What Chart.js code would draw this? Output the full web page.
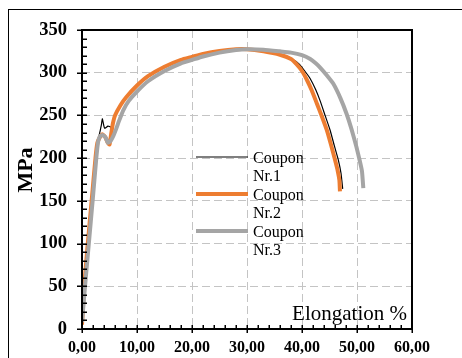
<!DOCTYPE html>
<html>
<head>
<meta charset="utf-8">
<script src="https://cdn.jsdelivr.net/npm/chart.js@4/dist/chart.umd.min.js"></script>
<style>
  html, body { margin: 0; padding: 0; background: #fff; }
  #wrap { width: 462px; height: 358px; }
</style>
</head>
<body>
<div id="wrap"><canvas id="c" width="462" height="358"></canvas></div>
<script>
// ---- data ----
const seriesLabels = ['Coupon Nr.1', 'Coupon Nr.2', 'Coupon Nr.3'];
const xTickLabels = ['0,00', '10,00', '20,00', '30,00', '40,00', '50,00', '60,00'];
const yTickLabels = ['0', '50', '100', '150', '200', '250', '300', '350'];
const xTitle = 'Elongation %';
const yTitle = 'MPa';

const coupon1X = [0, 0.45, 1.1, 1.8, 2.5, 2.9, 3.3, 3.5, 3.7, 3.9, 4.1, 4.4, 4.7, 5.0, 5.3, 5.6, 6, 7, 8, 10, 12, 15, 18, 20, 22, 25, 28, 30, 33, 36, 38, 39.5, 40.5, 41.5, 42.5, 43.3, 44.2, 45.1, 45.9, 46.6, 47.1, 47.4];
const coupon1Y = [10, 50, 100, 150, 200, 220, 232, 238, 246, 240, 235, 236, 237.5, 237, 236, 243, 250, 262, 271, 285, 296, 307, 315, 318.5, 322, 325.5, 327.5, 327.5, 325, 321, 316.5, 310, 302, 293, 280, 267, 250, 233, 214, 198, 182, 164];

const coupon2X = [0, 0.4, 1.05, 1.75, 2.45, 2.8, 3.2, 3.7, 4.2, 4.7, 5.0, 5.3, 5.6, 6, 7, 8, 10, 12, 15, 18, 20, 22, 25, 28, 30, 33, 36, 38, 39, 40, 40.9, 41.8, 42.7, 43.6, 44.5, 45.3, 46, 46.5, 46.8, 46.9];
const coupon2Y = [5, 50, 100, 150, 200, 218, 224, 228, 225, 218, 216, 228, 240, 250, 262, 271, 285, 296, 307, 315, 318.5, 322, 325.5, 327.5, 327.5, 325, 321, 316, 310, 302, 291.5, 279, 264, 249, 233, 215, 198, 185, 174, 161];

const coupon3X = [0, 0.55, 1.24, 1.93, 2.6, 2.95, 3.3, 3.8, 4.3, 4.7, 5.2, 5.7, 6.2, 6.7, 7.5, 8.5, 10, 12, 15, 18, 20, 22, 25, 28, 30, 33, 36, 38, 40, 41.5, 42.5, 43.3, 44.5, 45.7, 47, 48.1, 49, 49.9, 50.5, 50.9, 51.15];
const coupon3Y = [8, 50, 100, 150, 200, 220, 226, 227, 224, 218, 220, 226, 234, 243, 256, 267, 278, 290, 302, 311, 315, 319, 323.5, 326.5, 327.5, 327, 325, 323.5, 320.5, 316, 311, 306, 297, 287, 270, 252, 234, 213, 197, 185, 165];

const toPoints = (xs, ys) => xs.map((x, i) => ({ x: x, y: ys[i] }));

const SERIF = '"Liberation Serif", "Times New Roman", serif';

const decor = {
  id: 'decor',
  beforeDraw(chart) {
    const ctx = chart.ctx;
    ctx.save();
    ctx.fillStyle = '#fff';
    ctx.fillRect(0, 0, chart.width, chart.height);
    ctx.strokeStyle = '#000';
    ctx.lineWidth = 1;
    ctx.strokeRect(8.5, 9.5, 470, 370);
    ctx.restore();
  },
  afterDraw(chart) {
    const ctx = chart.ctx;
    const a = chart.chartArea;
    const xs = chart.scales.x, ys = chart.scales.y;
    ctx.save();
    // plot border
    ctx.strokeStyle = '#000';
    ctx.lineWidth = 2;
    ctx.strokeRect(a.left, a.top, a.right - a.left, a.bottom - a.top);
    // tick marks (major cross, minor inside)
    ctx.lineWidth = 1.5;
    ctx.beginPath();
    for (let v = 0; v <= 350; v += 10) {
      const py = Math.round(ys.getPixelForValue(v)) + 0.25;
      const major = v % 50 === 0;
      ctx.moveTo(a.left - (major ? 5 : 0), py);
      ctx.lineTo(a.left + 5, py);
    }
    for (let v = 0; v <= 60; v += 2) {
      const px = Math.round(xs.getPixelForValue(v)) + 0.25;
      const major = v % 10 === 0;
      ctx.moveTo(px, a.bottom + (major ? 4 : 0));
      ctx.lineTo(px, a.bottom - 4);
    }
    ctx.stroke();
    // x title inside plot
    ctx.fillStyle = '#000';
    ctx.font = '21px ' + SERIF;
    ctx.textAlign = 'right';
    ctx.textBaseline = 'alphabetic';
    ctx.fillText(xTitle, a.right - 5, a.bottom - 9);
    // y title
    ctx.save();
    ctx.translate(26, 170);
    ctx.rotate(-Math.PI / 2);
    ctx.font = 'bold 22px ' + SERIF;
    ctx.textAlign = 'center';
    ctx.textBaseline = 'middle';
    ctx.fillText(yTitle, 0, 0);
    ctx.restore();
    // legend
    const lx0 = 196, lx1 = 248, tx = 253;
    const rows = [157, 194, 231];
    chart.data.datasets.forEach((ds, i) => {
      const y = rows[i];
      ctx.strokeStyle = ds.borderColor;
      ctx.lineWidth = ds.borderWidth;
      ctx.lineCap = 'butt';
      ctx.beginPath();
      ctx.moveTo(lx0, y);
      ctx.lineTo(lx1, y);
      ctx.stroke();
      ctx.fillStyle = '#000';
      ctx.font = '16px ' + SERIF;
      ctx.textAlign = 'left';
      ctx.textBaseline = 'alphabetic';
      const parts = ds.label.split(' ');
      ctx.fillText(parts[0], tx, y + 5.5);
      ctx.fillText(parts[1], tx, y + 23.5);
    });
    ctx.restore();
  }
};

new Chart(document.getElementById('c'), {
  type: 'scatter',
  data: {
    datasets: [
      { label: seriesLabels[0], data: toPoints(coupon1X, coupon1Y), showLine: true, borderColor: '#000000', backgroundColor: '#000000', borderWidth: 1.2, pointRadius: 0, tension: 0.15, order: 2 },
      { label: seriesLabels[1], data: toPoints(coupon2X, coupon2Y), showLine: true, borderColor: '#ED7D31', backgroundColor: '#ED7D31', borderWidth: 4, pointRadius: 0, tension: 0.15, order: 1 },
      { label: seriesLabels[2], data: toPoints(coupon3X, coupon3Y), showLine: true, borderColor: '#A5A5A5', backgroundColor: '#A5A5A5', borderWidth: 4, pointRadius: 0, tension: 0.15, order: 0 }
    ]
  },
  options: {
    responsive: false,
    animation: false,
    layout: { padding: { left: 0, top: 30, right: 50, bottom: 0 } },
    plugins: { legend: { display: false }, tooltip: { enabled: false } },
    scales: {
      x: {
        type: 'linear', min: 0, max: 60,
        afterFit(s) { s.height = 29; },
        ticks: {
          stepSize: 10, padding: 9, color: '#000',
          font: { family: SERIF, size: 16, weight: 'bold' },
          callback: (v, i) => xTickLabels[i]
        },
        grid: { color: '#C4C4C4', lineWidth: 1, drawTicks: false },
        border: { display: false, dash: [8, 4] }
      },
      y: {
        type: 'linear', min: 0, max: 350,
        afterFit(s) { s.width = 82; },
        ticks: {
          stepSize: 50, padding: 15, color: '#000',
          font: { family: SERIF, size: 18.5, weight: 'bold' },
          callback: (v, i) => yTickLabels[i]
        },
        grid: { color: '#C4C4C4', lineWidth: 1, drawTicks: false },
        border: { display: false, dash: [8, 4] }
      }
    }
  },
  plugins: [decor]
});
</script>
</body>
</html>
